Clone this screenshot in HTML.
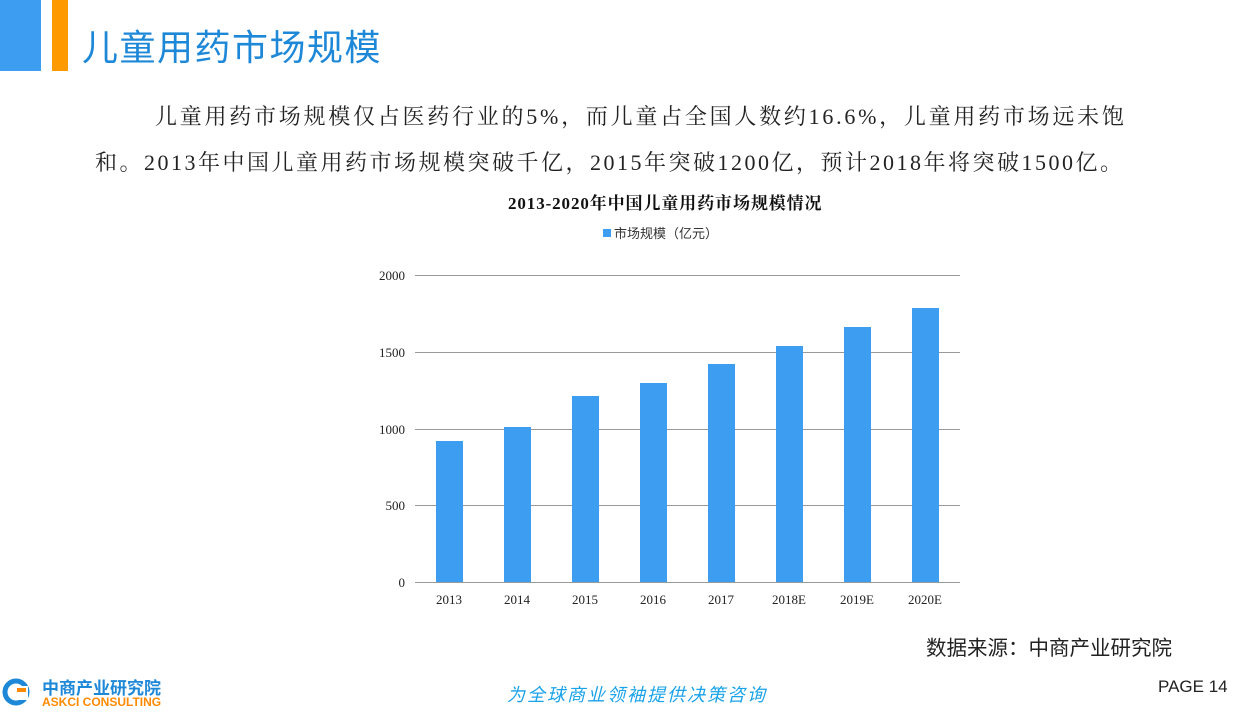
<!DOCTYPE html>
<html><head><meta charset="utf-8"><style>
body{margin:0;width:1250px;height:718px;background:#fff;position:relative;overflow:hidden;font-family:"Liberation Sans","Noto Sans CJK SC",sans-serif}
.a{position:absolute;white-space:nowrap}
.serif{font-family:"Liberation Serif","Noto Serif CJK SC",serif}
</style></head><body>
<div class="a" style="left:0;top:0;width:41px;height:71px;background:#3d9df0"></div>
<div class="a" style="left:52px;top:0;width:16px;height:71px;background:#ff9900"></div>
<div class="a" style="left:82px;top:19px;font-size:36px;color:#1e88d8;letter-spacing:1.5px">儿童用药市场规模</div>
<div class="a serif" style="left:155px;top:100px;font-size:22px;color:#222;letter-spacing:2.75px">儿童用药市场规模仅占医药行业的5%，而儿童占全国人数约16.6%，儿童用药市场远未饱</div>
<div class="a serif" style="left:95px;top:146px;font-size:22px;color:#222;letter-spacing:2.5px">和。2013年中国儿童用药市场规模突破千亿，2015年突破1200亿，预计2018年将突破1500亿。</div>
<div class="a serif" style="left:508px;top:189px;font-size:17px;font-weight:bold;color:#111;letter-spacing:0.9px">2013-2020年中国儿童用药市场规模情况</div>
<div class="a" style="left:603px;top:229px;width:8px;height:8px;background:#3d9df0"></div>
<div class="a" style="left:614px;top:223px;font-size:13px;color:#333">市场规模（亿元）</div>
<svg class="a" style="left:0;top:0" width="1250" height="718">
<g stroke="#999" stroke-width="1">
<line x1="415" y1="275.5" x2="960" y2="275.5"/>
<line x1="415" y1="352.5" x2="960" y2="352.5"/>
<line x1="415" y1="429.5" x2="960" y2="429.5"/>
<line x1="415" y1="505.5" x2="960" y2="505.5"/>
<line x1="415" y1="582.5" x2="960" y2="582.5"/>
</g>
<g fill="#3d9df0">
<rect x="436" y="441" width="27" height="141"/>
<rect x="504" y="427" width="27" height="155"/>
<rect x="572" y="396" width="27" height="186"/>
<rect x="640" y="383" width="27" height="199"/>
<rect x="708" y="364" width="27" height="218"/>
<rect x="776" y="346" width="27" height="236"/>
<rect x="844" y="327" width="27" height="255"/>
<rect x="912" y="308" width="27" height="274"/>
</g>
<g font-family="Liberation Serif,serif" font-size="13" fill="#222" text-anchor="end">
<text x="405" y="280">2000</text><text x="405" y="357">1500</text><text x="405" y="434">1000</text><text x="405" y="510">500</text><text x="405" y="587">0</text>
</g>
<g font-family="Liberation Serif,serif" font-size="13" fill="#222" text-anchor="middle">
<text x="449" y="604">2013</text><text x="517" y="604">2014</text><text x="585" y="604">2015</text><text x="653" y="604">2016</text><text x="721" y="604">2017</text><text x="789" y="604">2018E</text><text x="857" y="604">2019E</text><text x="925" y="604">2020E</text>
</g>
<circle cx="16" cy="692" r="11" fill="none" stroke="#1e88d8" stroke-width="5"/>
<rect x="18" y="686" width="10" height="14" fill="#fff"/>
<rect x="17" y="688" width="9" height="4" fill="#ff8a00"/>
</svg>
<div class="a" style="left:926px;top:631px;font-size:20.5px;color:#222">数据来源：中商产业研究院</div>
<div class="a" style="left:42px;top:674px;font-size:17px;font-weight:bold;color:#1e88d8">中商产业研究院</div>
<div class="a" style="left:42px;top:695px;font-size:12px;color:#ff8a00;font-weight:bold">ASKCI CONSULTING</div>
<div class="a" style="left:507px;top:681px;font-size:18px;color:#1aa3e8;font-style:italic;letter-spacing:2px">为全球商业领袖提供决策咨询</div>
<div class="a" style="left:1158px;top:677px;font-size:17px;color:#222">PAGE 14</div>
</body></html>
